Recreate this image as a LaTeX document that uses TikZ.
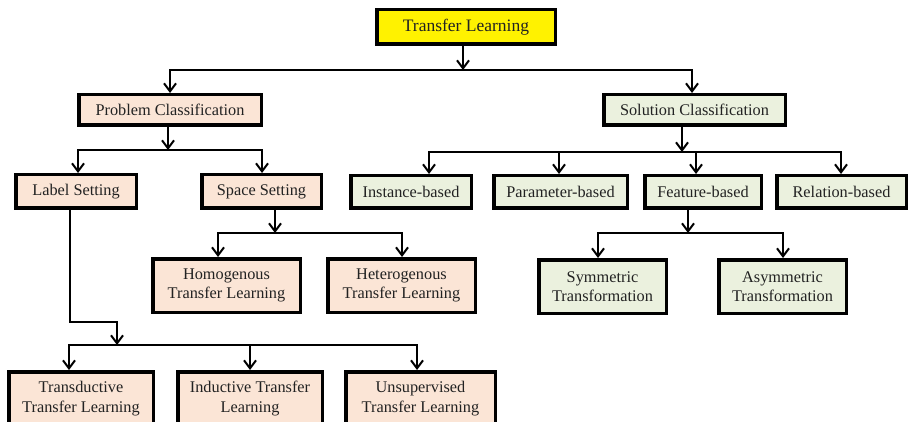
\documentclass[tikz,border=0pt]{standalone}
\usepackage{fontspec}
\setmainfont{Liberation Serif}
\usetikzlibrary{arrows.meta}
\definecolor{peach}{HTML}{FBE5D6}
\definecolor{sage}{HTML}{EBF1DE}
\definecolor{ink}{HTML}{222222}
\begin{document}
\begin{tikzpicture}[x=1pt,y=-1pt,
  box/.style={draw=black, line width=3.5pt, inner sep=0pt, align=center,
    text=ink, font=\fontsize{16.3}{19.5}\selectfont},
  prob/.style={box, fill=peach},
  sol/.style={box, fill=sage},
  conn/.style={line width=2pt, draw=black},
  arr/.style={conn, -{Straight Barb[length=8pt,width=12pt]}},
  biarr/.style={conn, {Straight Barb[length=8pt,width=12pt]}-{Straight Barb[length=8pt,width=12pt]}}]
\useasboundingbox (0,0) rectangle (910,422);

% root
\node[box, fill=yellow, minimum width=178.5pt, minimum height=34.5pt,
  font=\fontsize{17.5}{21}\selectfont] (top) at (466,27) {Transfer Learning};

% first level
\node[prob, minimum width=182.5pt, minimum height=30.5pt] (pc) at (170,110) {Problem Classification};
\node[sol, minimum width=181.5pt, minimum height=30.5pt] (sc) at (694.5,110) {Solution Classification};

% problem branch
\node[prob, minimum width=120.5pt, minimum height=33.5pt] (ls) at (76,191.5) {Label Setting};
\node[prob, minimum width=119.5pt, minimum height=33.5pt] (ss) at (261.5,191.5) {Space Setting};
\node[prob, minimum width=147.5pt, minimum height=53.5pt] (ho) at (226.5,285.5) {Homogenous\\Transfer Learning};
\node[prob, minimum width=147.5pt, minimum height=53.5pt] (he) at (401.5,285.5) {Heterogenous\\Transfer Learning};
\node[prob, minimum width=144.5pt, minimum height=53.5pt] (td) at (81,398.5) {Transductive\\Transfer Learning};
\node[prob, minimum width=144.5pt, minimum height=53.5pt] (in) at (250,398.5) {Inductive Transfer\\Learning};
\node[prob, minimum width=149.5pt, minimum height=53.5pt] (un) at (420.5,398.5) {Unsupervised\\Transfer Learning};

% solution branch
\node[sol, minimum width=120.5pt, minimum height=32.5pt] (ib) at (411,192) {Instance-based};
\node[sol, minimum width=133.5pt, minimum height=32.5pt] (pb) at (560.5,192) {Parameter-based};
\node[sol, minimum width=116.5pt, minimum height=32.5pt] (fb) at (703,192) {Feature-based};
\node[sol, minimum width=129.5pt, minimum height=32.5pt] (rb) at (841.5,192) {Relation-based};
\node[sol, minimum width=127.5pt, minimum height=53.5pt] (sy) at (602.5,286.5) {Symmetric\\Transformation};
\node[sol, minimum width=127.5pt, minimum height=53.5pt] (as) at (782.5,286.5) {Asymmetric\\Transformation};

% bus junctions
\coordinate (r0) at (463,70);  \coordinate (r0l) at (170,70);  \coordinate (r0r) at (692,70);
\coordinate (p0) at (168,150); \coordinate (p0l) at (78,150);  \coordinate (p0r) at (262,150);
\coordinate (s0) at (682,152); \coordinate (s0l) at (429,152); \coordinate (s0r) at (841,152);
\coordinate (s0a) at (559,152); \coordinate (s0b) at (696,152);
\coordinate (q0) at (275,233); \coordinate (q0l) at (218,233); \coordinate (q0r) at (402,233);
\coordinate (f0) at (688,233); \coordinate (f0l) at (598,233); \coordinate (f0r) at (783,233);
\coordinate (lbend) at (70,322); \coordinate (lturn) at (117,322);
\coordinate (l0) at (117,345); \coordinate (l0l) at (69,345); \coordinate (l0r) at (417,345);
\coordinate (l0m) at (250,345);

% root connectors
\draw[arr] (top.south -| r0) -- (r0);
\draw[biarr] (pc.north -| r0l) -- (r0l) -- (r0r) -- (sc.north -| r0r);

% problem classification connectors
\draw[arr] (pc.south -| p0) -- (p0);
\draw[biarr] (ls.north -| p0l) -- (p0l) -- (p0r) -- (ss.north -| p0r);

% solution classification connectors
\draw[arr] (sc.south -| s0) -- (s0);
\draw[biarr] (ib.north -| s0l) -- (s0l) -- (s0r) -- (rb.north -| s0r);
\draw[arr] (s0a) -- (pb.north -| s0a);
\draw[arr] (s0b) -- (fb.north -| s0b);

% space setting connectors
\draw[arr] (ss.south -| q0) -- (q0);
\draw[biarr] (ho.north -| q0l) -- (q0l) -- (q0r) -- (he.north -| q0r);

% feature-based connectors
\draw[arr] (fb.south -| f0) -- (f0);
\draw[biarr] (sy.north -| f0l) -- (f0l) -- (f0r) -- (as.north -| f0r);

% label setting connectors
\draw[arr] (ls.south -| lbend) -- (lbend) -- (lturn) -- (l0);
\draw[biarr] (td.north -| l0l) -- (l0l) -- (l0r) -- (un.north -| l0r);
\draw[arr] (l0m) -- (in.north -| l0m);
\end{tikzpicture}
\end{document}
